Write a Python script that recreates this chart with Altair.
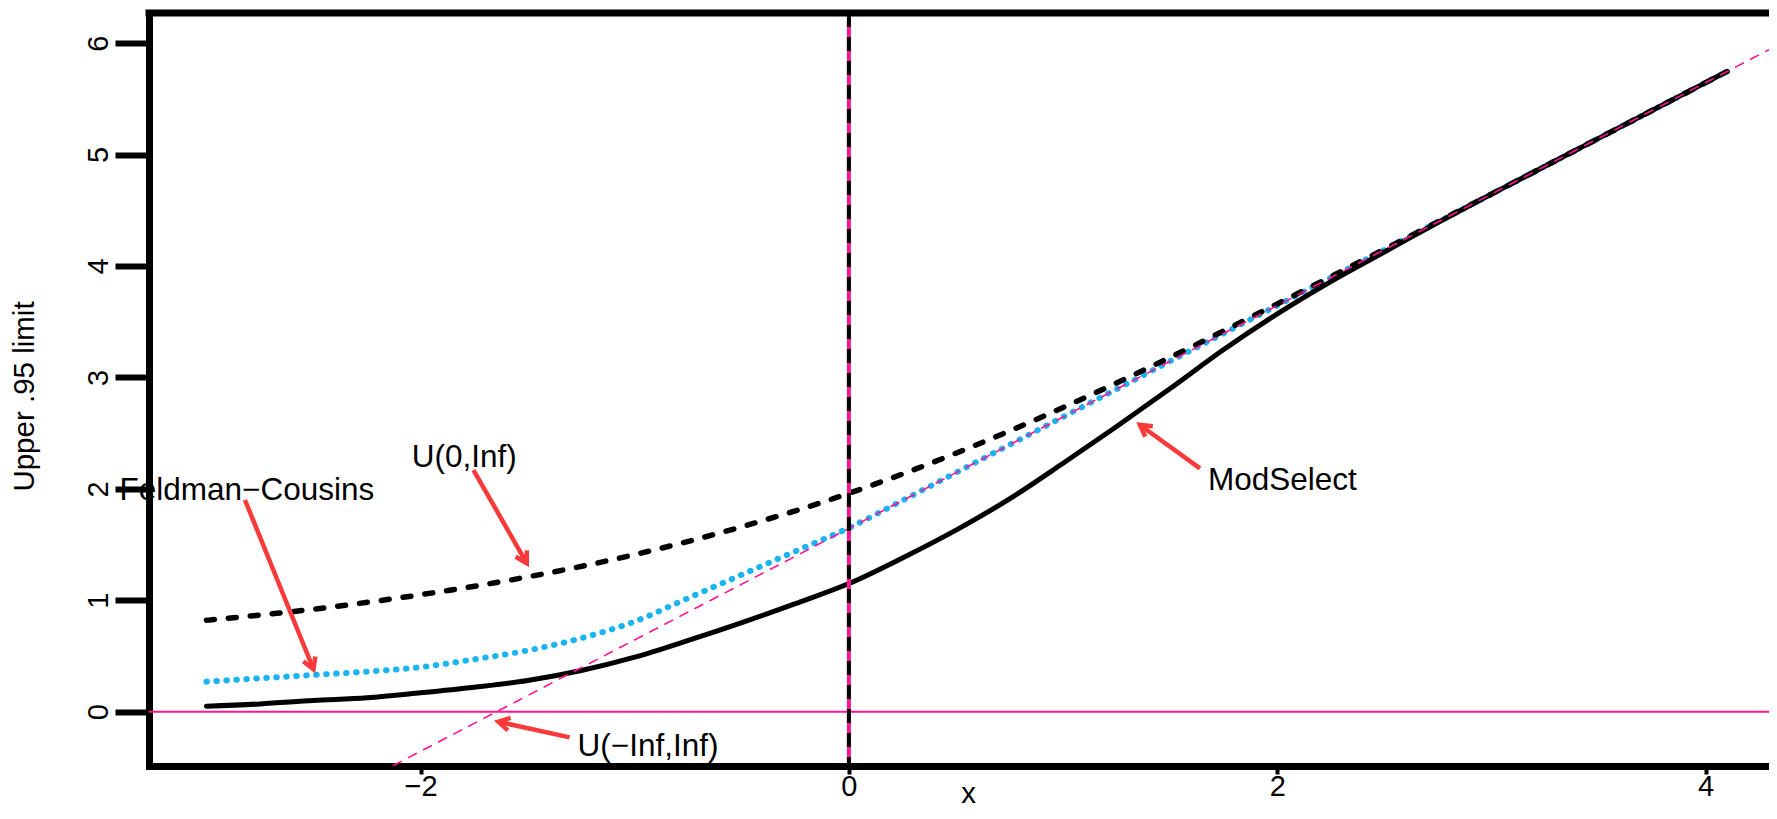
import math
import altair as alt
import pandas as pd

# ---------------- data ----------------
x_grid = [-3, -2.75, -2.5, -2.25, -2, -1.75, -1.5, -1.25, -1, -0.75, -0.5, -0.25,
          0, 0.25, 0.5, 0.75, 1, 1.25, 1.5, 1.75, 2, 2.25, 2.5, 2.75, 3, 3.5, 4, 4.1]
modselect = [0.05, 0.07, 0.10, 0.125, 0.17, 0.22, 0.28, 0.37, 0.49, 0.64, 0.80, 0.97,
             1.15, 1.38, 1.63, 1.91, 2.23, 2.56, 2.90, 3.25, 3.57, 3.86, 4.125, 4.39,
             4.645, 5.145, 5.645, 5.745]
feldman_cousins = [0.27, 0.30, 0.33, 0.36, 0.40, 0.47, 0.55, 0.66, 0.81, 1.02, 1.23, 1.44,
                   1.65, 1.895, 2.145, 2.395, 2.645, 2.895, 3.145, 3.395, 3.645, 3.895,
                   4.145, 4.395, 4.645, 5.145, 5.645, 5.745]
u0_x = [-3, -2.5, -2, -1.5, -1, -0.5, 0, 0.5, 1, 1.5, 2, 2.5, 3, 3.5, 4, 4.1]
u0_inf = [0.82, 0.92, 1.05, 1.21, 1.41, 1.66, 1.96, 2.32, 2.73, 3.18, 3.66, 4.15,
          4.645, 5.145, 5.645, 5.745]

diag_x = [-2.2, 4.4]          # U(-Inf,Inf) reference line
diag_y = [-0.555, 6.045]
hline_y = [0]
vline_x = [0]

x_ticks = [-2, 0, 2, 4]
y_ticks = [0, 1, 2, 3, 4, 5, 6]

label_text = ["Feldman\u2212Cousins", "U(0,Inf)", "ModSelect", "U(\u2212Inf,Inf)"]
label_x = [-2.811, -1.796, 2.024, -0.938]
label_y = [1.90, 2.20, 1.99, -0.40]

arrow_x0 = [-2.820, -1.753, 1.639, -1.304]
arrow_y0 = [1.900, 2.169, 2.184, -0.230]
arrow_x1 = [-2.500, -1.504, 1.359, -1.637]
arrow_y1 = [0.381, 1.332, 2.573, -0.090]

# ---------------- layout ----------------
XDOM = [-3.268, 4.296]
YDOM = [-0.487, 6.270]
W, H = 1620, 753
FONT = "Liberation Sans"
PINK = "#ff1493"
CYAN = "#1ab4f2"
RED = "#f83a3a"

sx = W / (XDOM[1] - XDOM[0])
sy = H / (YDOM[1] - YDOM[0])

xs = alt.Scale(domain=XDOM, nice=False, zero=False)
ys = alt.Scale(domain=YDOM, nice=False, zero=False)

x_axis = alt.Axis(values=x_ticks, title="x", tickSize=8, tickWidth=4, tickColor="black",
                  labelPadding=21, labelBaseline="alphabetic", labelFontSize=29,
                  labelFlush=False, labelColor="black", labelFont=FONT,
                  domainWidth=7, domainColor="black", domainCap="square", grid=False,
                  titleX=819, titleY=36, titleBaseline="alphabetic", titleAlign="center",
                  titleFontSize=29.5, titleFont=FONT, titleFontWeight="normal", titleColor="black")
y_axis = alt.Axis(values=y_ticks, title="Upper .95 limit", tickSize=34, tickWidth=6,
                  tickColor="black", labelAngle=270, labelAlign="center",
                  labelBaseline="alphabetic", labelPadding=8, labelFontSize=29,
                  labelFlush=False, labelColor="black", labelFont=FONT,
                  domainWidth=7, domainColor="black", domainCap="square", grid=False,
                  titleAngle=270, titleX=-116, titleY=383, titleBaseline="alphabetic",
                  titleAlign="center", titleFontSize=29.5, titleFont=FONT,
                  titleFontWeight="normal", titleColor="black")


def X(field):
    return alt.X(field, type="quantitative", scale=xs, axis=x_axis)


def Y(field):
    return alt.Y(field, type="quantitative", scale=ys, axis=y_axis)


df_mod = pd.DataFrame({"x": x_grid, "y": modselect})
df_fc = pd.DataFrame({"x": x_grid, "y": feldman_cousins})
df_u0 = pd.DataFrame({"x": u0_x, "y": u0_inf})
df_diag = pd.DataFrame({"x": diag_x, "y": diag_y})
df_h = pd.DataFrame({"y": hline_y})
df_v = pd.DataFrame({"x": vline_x})
df_lab = pd.DataFrame({"t": label_text, "x": label_x, "y": label_y})
df_arr = pd.DataFrame({"x": arrow_x0, "y": arrow_y0, "x2": arrow_x1, "y2": arrow_y1})
df_arr["ang"] = [
    math.degrees(math.atan2(-(b1 - b0) * sy, (a1 - a0) * sx)) % 360
    for a0, b0, a1, b1 in zip(arrow_x0, arrow_y0, arrow_x1, arrow_y1)
]

fc_line = alt.Chart(df_fc).mark_line(
    color=CYAN, strokeWidth=6, strokeDash=[0.5, 9.5], strokeCap="round",
    interpolate="monotone").encode(x=X("x"), y=Y("y"))
u0_line = alt.Chart(df_u0).mark_line(
    color="black", strokeWidth=5.5, strokeDash=[8, 14], strokeCap="round",
    interpolate="monotone").encode(x=X("x"), y=Y("y"))
mod_line = alt.Chart(df_mod).mark_line(
    color="black", strokeWidth=5, strokeCap="round",
    interpolate="monotone").encode(x=X("x"), y=Y("y"))

hline = alt.Chart(df_h).mark_rule(color=PINK, strokeWidth=2).encode(y=Y("y"))
diag = alt.Chart(df_diag).mark_line(color=PINK, strokeWidth=1.6, strokeDash=[10, 7],
                                    clip=True).encode(x=X("x"), y=Y("y"))
vline_pink = alt.Chart(df_v).mark_rule(color=PINK, strokeWidth=4).encode(x=X("x"))
vline_black = alt.Chart(df_v).mark_rule(color="black", strokeWidth=4,
                                        strokeDash=[14, 10]).encode(x=X("x"))

arrows = alt.Chart(df_arr).mark_rule(color=RED, strokeWidth=4.5).encode(
    x=X("x"), y=Y("y"), x2="x2", y2="y2")
heads = alt.Chart(df_arr).mark_point(
    shape="M -1 -0.577 L 0 0 L -1 0.577", size=500, filled=False, color=RED,
    strokeWidth=4.5, opacity=1).encode(
    x=X("x2"), y=Y("y2"), angle=alt.Angle("ang:Q", scale=None))

labels = alt.Chart(df_lab).mark_text(
    font=FONT, fontSize=31.5, align="center", baseline="alphabetic", color="black").encode(
    x=X("x"), y=Y("y"), text="t:N")

top_frame = alt.Chart(df_v).mark_rule(color="black", strokeWidth=7, strokeCap="square").encode(
    x=alt.value(0), x2=alt.value(W), y=alt.value(0))

chart = alt.layer(
    fc_line, mod_line, u0_line, hline, diag, vline_pink, vline_black,
    arrows, heads, labels, top_frame
).properties(
    width=W, height=H,
    padding={"left": 141, "top": 5, "right": 0, "bottom": 45},
    autosize=alt.AutoSizeParams(type="none"),
    background="white",
).configure_view(stroke=None)

chart.save("out.html", embed_options={"renderer": "svg", "actions": False})
